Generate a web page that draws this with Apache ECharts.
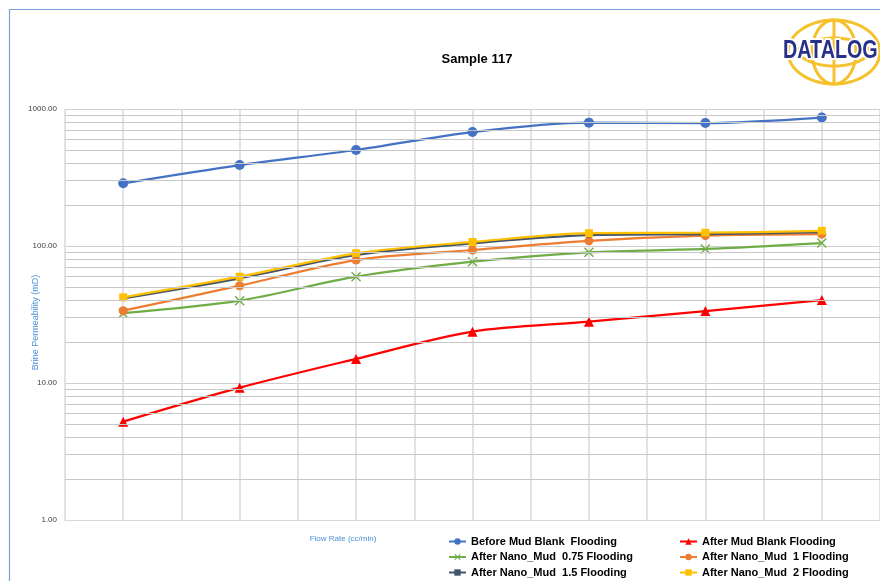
<!DOCTYPE html>
<html>
<head>
<meta charset="utf-8">
<script src="https://cdn.jsdelivr.net/npm/echarts@6/dist/echarts.min.js"></script>
<style>
  html, body { margin: 0; padding: 0; background: #ffffff; }
  #chart { width: 880px; height: 581px; }
</style>
</head>
<body>
<div id="chart"></div>
<script>
// Flow-rate steps (categories along the x axis, not labelled on the chart)
const flowSteps = ['1', '2', '3', '4', '5', '6', '7'];

// Brine permeability (mD) per flooding stage
const beforeMudBlank = [287, 390, 502, 679, 795, 790, 866];
const afterMudBlank  = [5.22, 9.24, 15.0, 23.7, 28.0, 33.5, 40.3];
const nanoMud075     = [32.3, 39.9, 59.7, 76.8, 90.0, 95.1, 105];
const nanoMud1       = [33.7, 51.3, 79.0, 93.5, 109, 119, 122];
const nanoMud15      = [41.5, 58.1, 86.0, 104.7, 120, 122, 126];
const nanoMud2       = [42.2, 59.7, 88.5, 107, 124, 125, 129];

// Log-axis minor gridline values between the labelled decades
const yMinorTicks = [2, 3, 4, 5, 6, 7, 8, 9,
                     20, 30, 40, 50, 60, 70, 80, 90,
                     200, 300, 400, 500, 600, 700, 800, 900];

// Half-step gridline slots across the x axis
const xGridSlots = ['', '', '', '', '', '', '', '', '', '', '', '', '', ''];

const seriesNames = [
  'Before Mud Blank  Flooding',
  'After Mud Blank Flooding',
  'After Nano_Mud  0.75 Flooding',
  'After Nano_Mud  1 Flooding',
  'After Nano_Mud  1.5 Flooding',
  'After Nano_Mud  2 Flooding'
];

const X_SYMBOL = 'path://M1,0 L5,4 L9,0 L10,1 L6,5 L10,9 L9,10 L5,6 L1,10 L0,9 L4,5 L0,1 Z';

function lineSeries(name, data, color, symbol, size) {
  return {
    name: name,
    type: 'line',
    xAxisIndex: 0,
    data: data,
    smooth: 0.3,
    symbol: symbol,
    symbolSize: size,
    showAllSymbol: true,
    lineStyle: { color: color, width: 2.25 },
    itemStyle: { color: color },
    z: 3
  };
}

// DATALOG logo: wireframe globe drawn as polylines
function ellipsePts(cx, cy, rx, ry, a0, a1) {
  const pts = [];
  const n = 48;
  for (let i = 0; i <= n; i++) {
    const a = a0 + (a1 - a0) * i / n;
    pts.push([cx + rx * Math.cos(a), cy + ry * Math.sin(a)]);
  }
  return pts;
}
const gcx = 834, gcy = 52, grx = 46, gry = 32;
const globeColor = '#f6c12c';
const globeStyle = { stroke: globeColor, lineWidth: 3, fill: null };
const logoParts = [
  { type: 'polyline', shape: { points: ellipsePts(gcx, gcy, grx, gry, 0, Math.PI * 2) }, style: globeStyle },
  { type: 'polyline', shape: { points: ellipsePts(gcx, gcy, 22, gry, 0, Math.PI * 2) }, style: globeStyle },
  { type: 'line', shape: { x1: gcx, y1: gcy - gry, x2: gcx, y2: gcy + gry }, style: globeStyle },
  { type: 'polyline', shape: { points: ellipsePts(gcx, gcy + 8, 40, 22, Math.PI * 1.12, Math.PI * 1.88) }, style: globeStyle },
  { type: 'polyline', shape: { points: ellipsePts(gcx, gcy - 8, 40, 22, Math.PI * 0.12, Math.PI * 0.88) }, style: globeStyle },
  {
    type: 'text', x: 783, y: 51, scaleX: 0.79,
    style: {
      text: 'DATALOG',
      fontSize: 25,
      fontWeight: 'bold',
      fontFamily: 'Liberation Sans',
      fill: '#27318a',
      stroke: '#ffffff', lineWidth: 4, strokeFirst: true,
      align: 'left', verticalAlign: 'middle',
      textAlign: 'left', textVerticalAlign: 'middle'
    }
  }
];

const chart = echarts.init(document.getElementById('chart'), null, { renderer: 'canvas' });

const legendText = { color: '#000000', fontSize: 11, fontWeight: 'bold', fontFamily: '"Liberation Sans", Arial, sans-serif' };

chart.setOption({
  backgroundColor: '#ffffff',
  animation: false,
  title: {
    text: 'Sample 117',
    left: 472, top: 48,
    textAlign: 'center',
    textStyle: { fontSize: 13, fontWeight: 'bold', color: '#000000', fontFamily: '"Liberation Sans", Arial, sans-serif' }
  },
  grid: { left: 65, right: -2, top: 109, bottom: 61, containLabel: false },
  legend: [
    {
      data: [seriesNames[0], seriesNames[2], seriesNames[4]],
      orient: 'vertical', left: 448, top: 536, padding: 0, height: 45,
      itemWidth: 17, itemHeight: 8, itemGap: 4.5,
      textStyle: legendText
    },
    {
      data: [seriesNames[1], seriesNames[3], seriesNames[5]],
      orient: 'vertical', left: 679, top: 536, padding: 0, height: 45,
      itemWidth: 17, itemHeight: 8, itemGap: 4.5,
      textStyle: legendText
    }
  ],
  xAxis: [
    {
      type: 'category',
      data: flowSteps,
      boundaryGap: true,
      axisLine: { show: true, lineStyle: { color: '#d9d9d9', width: 1 } },
      axisTick: { show: false },
      axisLabel: { show: false },
      splitLine: { show: false }
    },
    {
      type: 'category',
      data: xGridSlots,
      boundaryGap: true,
      position: 'bottom',
      axisLine: { show: false },
      axisTick: { show: false, interval: 0 },
      axisLabel: { show: false, interval: 0 },
      splitLine: { show: true, interval: 0, lineStyle: { color: '#d9d9d9', width: 1.5 } }
    }
  ],
  yAxis: {
    type: 'log',
    logBase: 10,
    min: 1,
    max: 1000,
    name: 'Brine Permeability (mD)',
    nameLocation: 'middle',
    nameGap: 25,
    nameMoveOverlap: false,
    nameTextStyle: { color: '#4a90d9', fontSize: 9, fontFamily: '"Liberation Sans", Arial, sans-serif', padding: [0, 16, 0, 0] },
    axisLine: { show: false },
    axisTick: { show: false },
    axisLabel: {
      color: '#404040', fontSize: 8, margin: 8,
      fontFamily: '"Liberation Sans", Arial, sans-serif',
      formatter: function (v) { return Number(v).toFixed(2); }
    },
    splitLine: { show: true, lineStyle: { color: '#cfcfcf', width: 1 } }
  },
  graphic: [
    {
      type: 'rect', silent: true,
      shape: { x: 9.5, y: 9.5, width: 900, height: 600 },
      style: { fill: null, stroke: '#7f9fd8', lineWidth: 1.2 }
    },
    {
      type: 'text', x: 343, y: 539, silent: true,
      style: {
        text: 'Flow Rate (cc/min)',
        font: '8px "Liberation Sans", Arial, sans-serif',
        fill: '#4a90d9',
        align: 'center', verticalAlign: 'middle',
        textAlign: 'center', textVerticalAlign: 'middle'
      }
    },
    { type: 'group', silent: true, children: logoParts }
  ],
  series: [
    {
      name: 'minor-grid',
      type: 'line',
      data: [],
      silent: true,
      z: 1,
      markLine: {
        silent: true,
        symbol: 'none',
        label: { show: false },
        lineStyle: { color: '#c8c8c8', width: 1, type: 'solid' },
        emphasis: { disabled: true },
        data: yMinorTicks.map(function (v) { return { yAxis: v }; })
      }
    },
    lineSeries(seriesNames[0], beforeMudBlank, '#4472c4', 'circle', 10),
    lineSeries(seriesNames[1], afterMudBlank, '#ff0000', 'triangle', 10),
    lineSeries(seriesNames[2], nanoMud075, '#70ad47', X_SYMBOL, 10),
    lineSeries(seriesNames[3], nanoMud1, '#ed7d31', 'circle', 9),
    lineSeries(seriesNames[4], nanoMud15, '#44546a', 'rect', 5),
    lineSeries(seriesNames[5], nanoMud2, '#ffc000', 'rect', 8)
  ]
});
</script>
</body>
</html>
